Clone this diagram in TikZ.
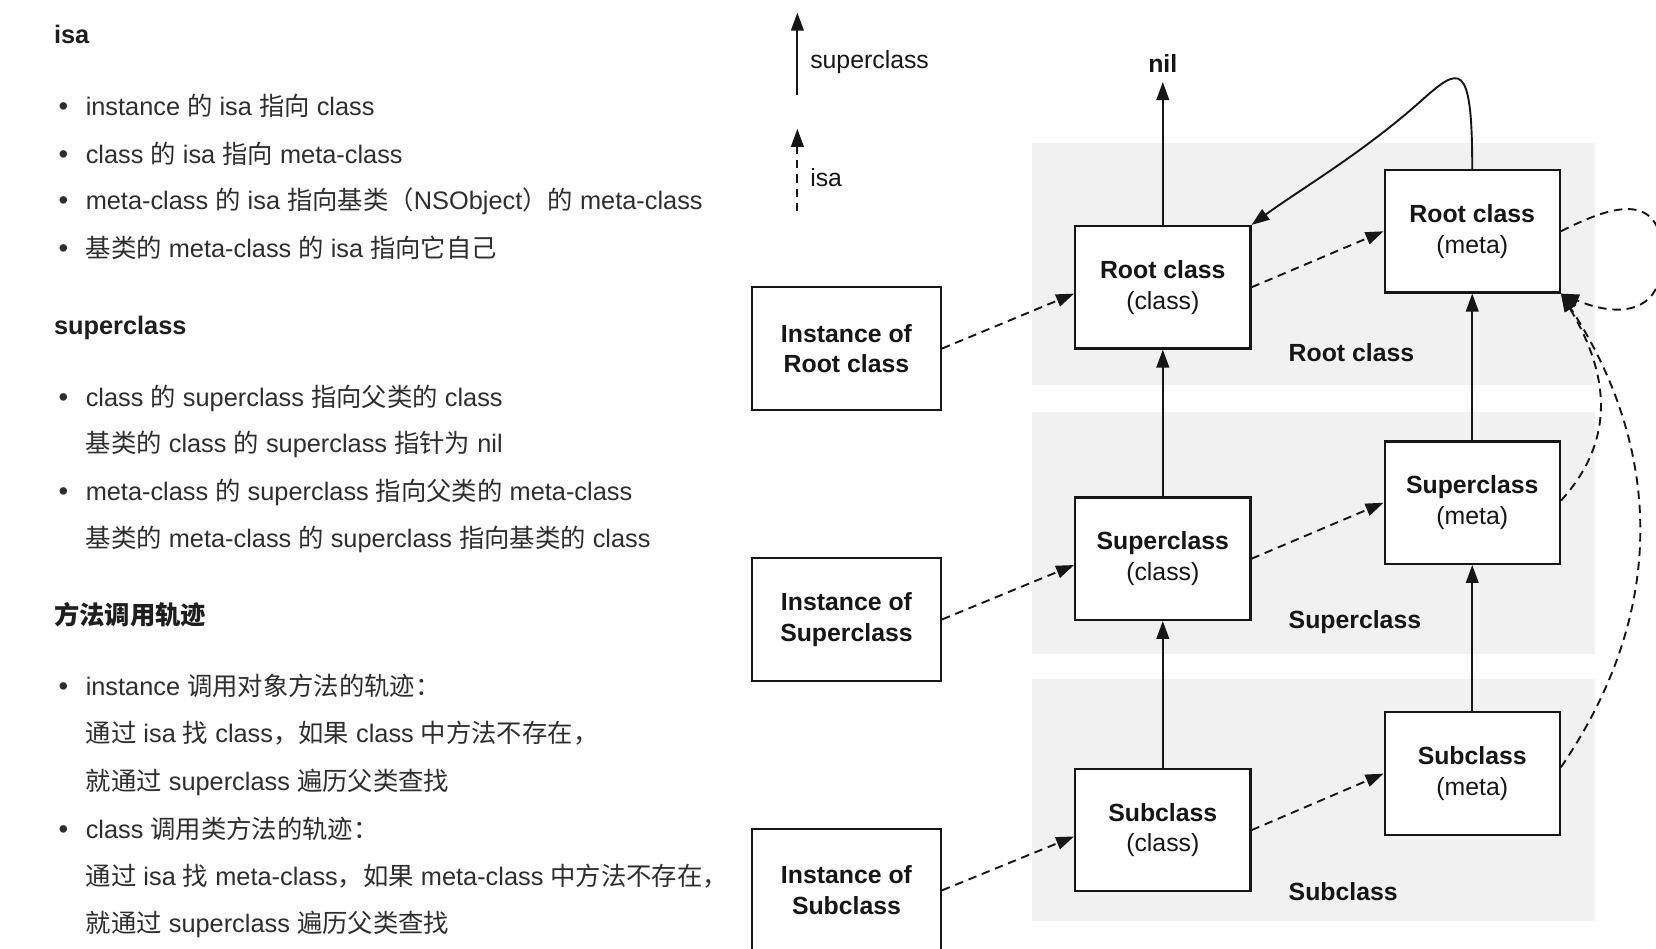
\documentclass[tikz,border=0pt]{standalone}
\usepackage{fontspec}
\setmainfont{Liberation Sans}
\newfontfamily\zhfont{Noto Sans CJK SC}
\newcommand\zh[1]{{\zhfont #1}}
\usetikzlibrary{arrows.meta}
\definecolor{txt}{HTML}{2E2E2E}
\definecolor{head}{HTML}{1E1E1E}
\definecolor{bandgray}{HTML}{F1F1F1}
\definecolor{ink}{HTML}{161616}
\tikzset{
  lefttext/.style={anchor=base west, text=txt, font=\fontsize{24}{28}\selectfont, inner sep=0pt},
  heading/.style={anchor=base west, text=head, font=\fontsize{24}{28}\selectfont\bfseries, inner sep=0pt},
  bulletdot/.style={anchor=base, text=txt, font=\fontsize{26}{28}\selectfont, inner sep=0pt},
  classbox/.style={draw=ink, line width=2pt, fill=white, minimum width=166pt, minimum height=116pt,
    align=center, font=\fontsize{23.5}{29}\selectfont, text=ink, inner sep=0pt},
  instbox/.style={classbox, minimum width=179pt},
  bandlabel/.style={anchor=west, font=\fontsize{23.5}{28}\selectfont\bfseries, text=ink, inner sep=0pt},
  legendlabel/.style={anchor=west, font=\fontsize{23.5}{28}\selectfont, text=ink, inner sep=0pt},
  supa/.style={draw=ink, line width=1.8pt, -{Triangle[length=17pt,width=12pt]}},
  isaa/.style={supa, dash pattern=on 8pt off 5.5pt},
}
\begin{document}
\begin{tikzpicture}[x=1pt,y=-1pt]
\useasboundingbox (0,0) rectangle (1568,898);
\clip (0,0) rectangle (1568,898);
\fill[white] (0,0) rectangle (1568,898);

% ---------- left text ----------
\node[heading] (h1) at (51,41.5) {isa};
\node[bulletdot] (b1) at (60,109.5) {•};
\node[lefttext] (t1) at (81,109.5) {instance \zh{的} isa \zh{指向} class};
\node[bulletdot] (b2) at (60,154.5) {•};
\node[lefttext] (t2) at (81,154.5) {class \zh{的} isa \zh{指向} meta-class};
\node[bulletdot] (b3) at (60,198.5) {•};
\node[lefttext] (t3) at (81,198.5) {meta-class \zh{的} isa \zh{指向基类（}NSObject\zh{）的} meta-class};
\node[bulletdot] (b4) at (60,243.5) {•};
\node[lefttext] (t4) at (81,243.5) {\zh{基类的} meta-class \zh{的} isa \zh{指向它自己}};

\node[heading] (h2) at (51,316.5) {superclass};
\node[bulletdot] (b5) at (60,384.5) {•};
\node[lefttext] (t5) at (81,384.5) {class \zh{的} superclass \zh{指向父类的} class};
\node[lefttext] (t6) at (81,428.5) {\zh{基类的} class \zh{的} superclass \zh{指针为} nil};
\node[bulletdot] (b6) at (60,473.5) {•};
\node[lefttext] (t7) at (81,473.5) {meta-class \zh{的} superclass \zh{指向父类的} meta-class};
\node[lefttext] (t8) at (81,518.5) {\zh{基类的} meta-class \zh{的} superclass \zh{指向基类的} class};

\node[heading] (h3) at (51,591.5) {\zh{方法调用轨迹}};
\node[bulletdot] (b7) at (60,658.5) {•};
\node[lefttext] (t9) at (81,658.5) {instance \zh{调用对象方法的轨迹：}};
\node[lefttext] (t10) at (81,703.5) {\zh{通过} isa \zh{找} class\zh{，如果} class \zh{中方法不存在，}};
\node[lefttext] (t11) at (81,748.5) {\zh{就通过} superclass \zh{遍历父类查找}};
\node[bulletdot] (b8) at (60,793.5) {•};
\node[lefttext] (t12) at (81,793.5) {class \zh{调用类方法的轨迹：}};
\node[lefttext] (t13) at (81,838.5) {\zh{通过} isa \zh{找} meta-class\zh{，如果} meta-class \zh{中方法不存在，}};
\node[lefttext] (t14) at (81,882.5) {\zh{就通过} superclass \zh{遍历父类查找}};

% ---------- legend ----------
\coordinate (sa) at (755,90);
\coordinate (sb) at (755,12);
\draw[supa] (sa) -- (sb);
\node[legendlabel] (ls) at (767,59) {superclass};
\coordinate (ia) at (755,200);
\coordinate (ib) at (755,122);
\draw[isaa] (ia) -- (ib);
\node[legendlabel] (li) at (767,168) {isa};

% ---------- bands ----------
\fill[bandgray] (977,135) rectangle (1510,365);
\fill[bandgray] (977,390) rectangle (1510,619);
\fill[bandgray] (977,643) rectangle (1510,872);
\node[bandlabel] (lr) at (1220,334) {Root class};
\node[bandlabel] (lsup) at (1220,589) {Superclass};
\node[bandlabel] (lsub) at (1220,844) {Subclass};

% ---------- boxes ----------
\node[instbox] (ir) at (801.5,330) {\textbf{Instance of}\\\textbf{Root class}};
\node[classbox] (rc) at (1101,272) {\textbf{Root class}\\(class)};
\node[classbox] (rm) at (1394,219) {\textbf{Root class}\\(meta)};
\node[instbox] (is) at (801.5,586.5) {\textbf{Instance of}\\\textbf{Superclass}};
\node[classbox] (sc) at (1101,529) {\textbf{Superclass}\\(class)};
\node[classbox] (sm) at (1394,476) {\textbf{Superclass}\\(meta)};
\node[instbox] (isub) at (801.5,843) {\textbf{Instance of}\\\textbf{Subclass}};
\node[classbox] (subc) at (1101,786) {\textbf{Subclass}\\(class)};
\node[classbox] (subm) at (1394,732.5) {\textbf{Subclass}\\(meta)};

\node[font=\fontsize{23.5}{28}\selectfont\bfseries, text=ink, inner sep=0pt] (nil) at (1101,60) {nil};

% ---------- superclass arrows ----------
\draw[supa, shorten >=9pt] (rc.north) -- (nil.south);
\draw[supa] (sc.north) -- (rc.south);
\draw[supa] (subc.north) -- (sc.south);
\draw[supa] (sm.north) -- (rm.south);
\draw[supa] (subm.north) -- (sm.south);
\draw[supa] (rm.north) .. controls (1394,55) and (1382,63) .. (1345,96)
  .. controls (1290,145) and (1230,180) .. (rc.north east);

% ---------- isa arrows ----------
\draw[isaa] (ir.east) -- ([yshift=-6pt]rc.west);
\draw[isaa] (rc.east) -- (rm.west);
\draw[isaa] (is.east) -- ([yshift=-6pt]sc.west);
\draw[isaa] (sc.east) -- (sm.west);
\draw[isaa] (isub.east) -- ([yshift=-6pt]subc.west);
\draw[isaa] (subc.east) -- (subm.west);
\draw[isaa] (rm.east) .. controls (1525,195) and (1572,180) .. (1574,240)
  .. controls (1576,300) and (1530,300) .. (rm.south east);
\draw[isaa] ([yshift=2pt]sm.east) .. controls (1527,420) and (1527,360) .. (rm.south east);
\draw[isaa] ([yshift=6pt]subm.east) .. controls (1605,540) and (1545,380) .. (rm.south east);
\end{tikzpicture}
\end{document}
